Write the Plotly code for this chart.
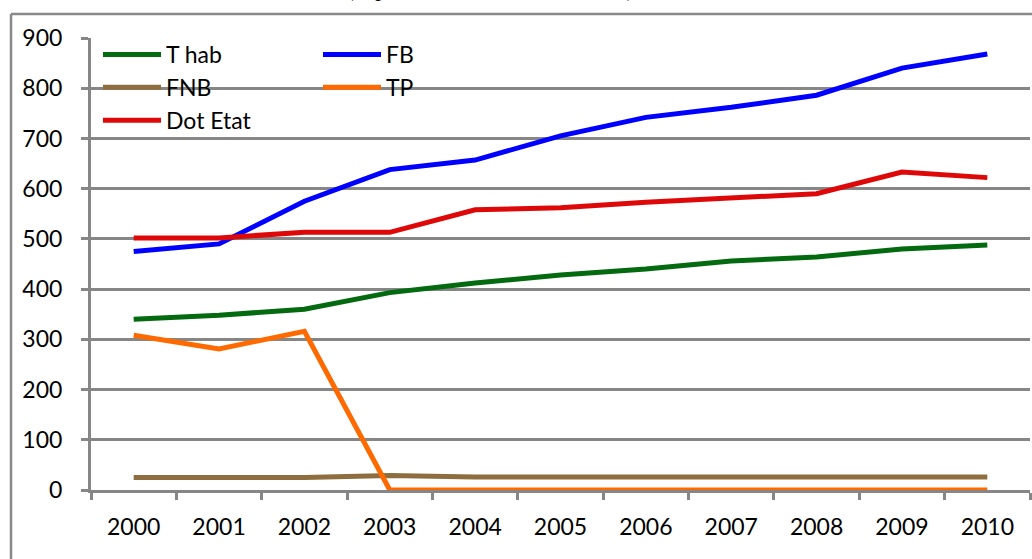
import plotly.graph_objects as go

years = ["2000", "2001", "2002", "2003", "2004", "2005", "2006", "2007", "2008", "2009", "2010"]
t_hab = [340, 348, 360, 393, 412, 428, 440, 456, 464, 480, 488]
fb = [475, 490, 575, 638, 657, 705, 742, 762, 786, 840, 868]
fnb = [25, 25, 25, 29, 26, 26, 26, 26, 26, 26, 26]
tp = [308, 281, 316, 0, 0, 0, 0, 0, 0, 0, 0]
dot_etat = [502, 502, 513, 513, 558, 562, 573, 581, 590, 633, 622]
y_ticks = [0, 100, 200, 300, 400, 500, 600, 700, 800, 900]

FONT = "Lato"
FS = 23
W, H = 1032, 559
ML, MR, MT, MB = 91, 2, 38, 69
PW, PH = W - ML - MR, H - MT - MB

def px_x(p):
    return (p - ML) / PW

def px_y(p):
    return (H - MB - p) / PH

series = [
    ("T hab", t_hab, "#036a10", "legend", "g1"),
    ("FB", fb, "#0000ff", "legend2", "g4"),
    ("FNB", fnb, "#8e6e3e", "legend", "g2"),
    ("TP", tp, "#ff6a00", "legend2", "g5"),
    ("Dot Etat", dot_etat, "#de0808", "legend", "g3"),
]

fig = go.Figure()
for name, vals, color, leg, grp in series:
    fig.add_trace(go.Scatter(
        x=years, y=vals, name=name, mode="lines",
        line=dict(color=color, width=5),
        legend=leg, legendgroup=grp,
    ))

GRID = "#868686"
legend_common = dict(
    xanchor="left", yanchor="top", bgcolor="rgba(0,0,0,0)",
    font=dict(family=FONT, size=FS, color="#000000"),
    itemwidth=58, tracegroupgap=0, orientation="v",
    itemclick=False,
)
fig.update_layout(
    width=W, height=H,
    margin=dict(l=ML, r=MR, t=MT, b=MB, pad=0),
    paper_bgcolor="white", plot_bgcolor="white",
    font=dict(family=FONT, size=FS, color="#000000"),
    legend=dict(x=px_x(98), y=px_y(33), **legend_common),
    legend2=dict(x=px_x(318), y=px_y(33), **legend_common),
    xaxis=dict(
        type="category", range=[-0.5, 10.5], tickson="boundaries",
        ticks="outside", ticklen=7, tickwidth=3, tickcolor=GRID,
        showline=True, linecolor=GRID, linewidth=3,
        showgrid=False, ticklabelstandoff=14,
        tickfont=dict(family=FONT, size=FS),
    ),
    yaxis=dict(
        range=[0, 900], tickvals=y_ticks,
        ticks="outside", ticklen=7, tickwidth=3, tickcolor=GRID,
        showline=True, linecolor=GRID, linewidth=3,
        showgrid=True, gridcolor=GRID, gridwidth=3, zeroline=False,
        ticklabelstandoff=14,
        tickfont=dict(family=FONT, size=FS),
    ),
    showlegend=True,
)

# outer chart frame (partially visible)
fig.add_shape(type="line", xref="paper", yref="paper",
              x0=px_x(11), x1=px_x(11), y0=px_y(14), y1=px_y(H + 10),
              line=dict(color="#898989", width=2.5))
fig.add_shape(type="line", xref="paper", yref="paper",
              x0=px_x(11), x1=px_x(W + 10), y0=px_y(14), y1=px_y(14),
              line=dict(color="#898989", width=2.5))

# cut-off title above the frame
fig.add_annotation(
    text="(exprimé en millions de FCFA)", xref="paper", yref="paper",
    x=px_x(490), y=px_y(3), xanchor="center", yanchor="bottom",
    showarrow=False, font=dict(family="Liberation Serif", size=23, color="#000000"),
)

fig.write_html("out.html")
